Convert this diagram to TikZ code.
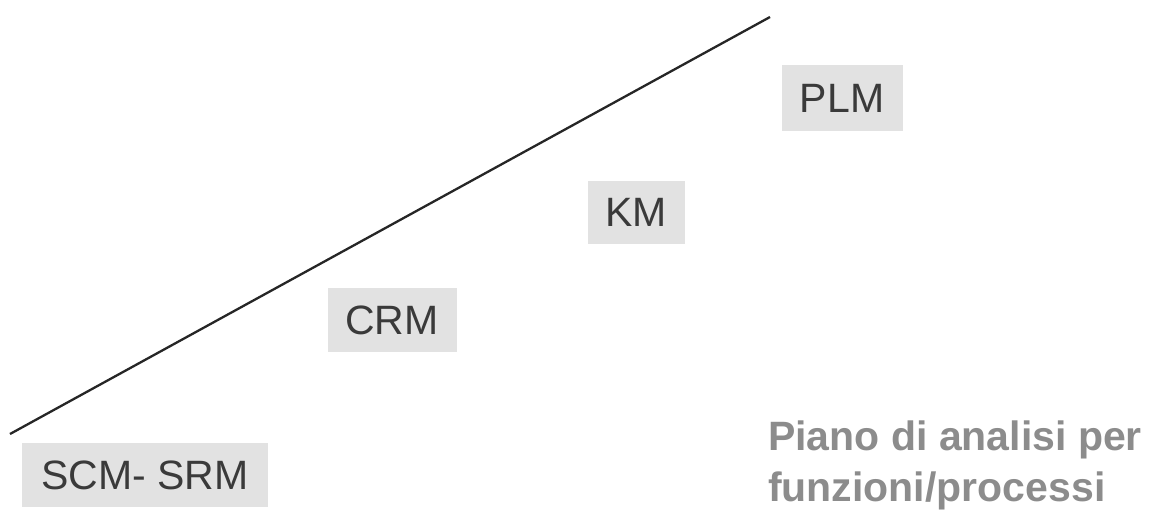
\documentclass[tikz,border=0pt]{standalone}
\usepackage{fontspec}
\setmainfont{Liberation Sans}
\definecolor{boxfill}{HTML}{E2E2E2}
\definecolor{boxtext}{HTML}{3A3A3A}
\definecolor{notetext}{HTML}{8C8C8C}
\begin{document}
\begin{tikzpicture}[x=1pt,y=-1pt,
  tag/.style={fill=boxfill, text=boxtext, font=\fontsize{41}{43}\selectfont, inner sep=0pt, anchor=center},
  note/.style={text=notetext, font=\bfseries\fontsize{41}{51}\selectfont, align=left, anchor=north west, inner sep=0pt}]
\useasboundingbox (0,0) rectangle (1155,512);
\node[tag, minimum width=246, minimum height=64] (scm) at (145,475) {SCM- SRM};
\node[tag, minimum width=129, minimum height=64] (crm) at (392,320) {CRM};
\node[tag, minimum width=97, minimum height=63] (km) at (636,212) {KM};
\node[tag, minimum width=121, minimum height=66] (plm) at (842,98) {PLM};
\coordinate (a) at (10,434);
\coordinate (b) at (770,17);
\draw[line width=2.3pt, color=black!85] (a) -- (b);
\node[note] (note) at (768,421) {Piano di analisi per\\funzioni/processi};
\end{tikzpicture}
\end{document}
